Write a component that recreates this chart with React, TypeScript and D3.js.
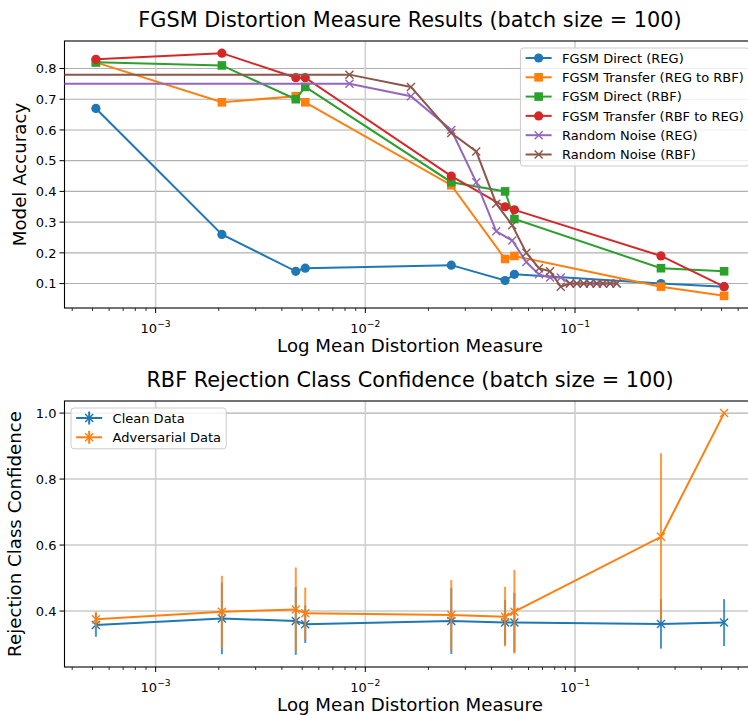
import { useEffect, useRef } from "react";
import * as d3 from "d3";

const FONT = "DejaVu Sans, Verdana, sans-serif";

// mean distortion of each FGSM run (same runs in both panels)
const fgsmDistortion = [5.19e-4, 2.07e-3, 4.66e-3, 5.17e-3, 0.0257, 0.0464, 0.0514, 0.257, 0.514];

const fgsmDirectReg = [0.67, 0.26, 0.14, 0.15, 0.16, 0.11, 0.13, 0.1, 0.09];
const fgsmTransferRegToRbf = [0.82, 0.69, 0.71, 0.69, 0.42, 0.18, 0.19, 0.09, 0.06];
const fgsmDirectRbf = [0.82, 0.81, 0.7, 0.74, 0.43, 0.4, 0.31, 0.15, 0.14];
const fgsmTransferRbfToReg = [0.83, 0.85, 0.77, 0.77, 0.45, 0.35, 0.34, 0.19, 0.09];

// random noise runs; the first one has no noise (0 distortion, falls off the log axis)
const noiseDistortion = [
  0, 0.0084, 0.0165, 0.0257, 0.0338, 0.0421, 0.0502, 0.0586, 0.0673, 0.076, 0.0855,
  0.0946, 0.102, 0.11, 0.118, 0.127, 0.136, 0.147, 0.158,
];
const noiseReg = [
  0.75, 0.75, 0.71, 0.6, 0.43, 0.27, 0.24, 0.17, 0.13, 0.12, 0.12,
  0.1, 0.1, 0.1, 0.1, 0.1, 0.1, 0.1, 0.1,
];
const noiseRbf = [
  0.78, 0.78, 0.74, 0.59, 0.53, 0.36, 0.29, 0.2, 0.15, 0.14, 0.09,
  0.1, 0.1, 0.1, 0.1, 0.1, 0.1, 0.1, 0.1,
];

// rejection class confidence (mean, std) per FGSM run
const cleanMean = [0.358, 0.377, 0.37, 0.36, 0.37, 0.365, 0.365, 0.361, 0.365];
const cleanStd = [0.036, 0.108, 0.103, 0.057, 0.1, 0.068, 0.09, 0.075, 0.071];
const advMean = [0.375, 0.398, 0.405, 0.393, 0.388, 0.383, 0.398, 0.625, 1.0];
const advStd = [0.023, 0.109, 0.127, 0.078, 0.106, 0.09, 0.127, 0.253, 0];

const topYTicks = [0.1, 0.2, 0.3, 0.4, 0.5, 0.6, 0.7, 0.8];
const bottomYTicks = [0.4, 0.6, 0.8, 1.0];
const xMajorTicks = [1e-3, 1e-2, 1e-1];

const C = ["#1f77b4", "#ff7f0e", "#2ca02c", "#d62728", "#9467bd", "#8c564b"];

const topSeries = [
  { name: "FGSM Direct (REG)", xs: fgsmDistortion, ys: fgsmDirectReg, color: C[0], marker: "o" },
  { name: "FGSM Transfer (REG to RBF)", xs: fgsmDistortion, ys: fgsmTransferRegToRbf, color: C[1], marker: "s" },
  { name: "FGSM Direct (RBF)", xs: fgsmDistortion, ys: fgsmDirectRbf, color: C[2], marker: "s" },
  { name: "FGSM Transfer (RBF to REG)", xs: fgsmDistortion, ys: fgsmTransferRbfToReg, color: C[3], marker: "o" },
  { name: "Random Noise (REG)", xs: noiseDistortion, ys: noiseReg, color: C[4], marker: "x" },
  { name: "Random Noise (RBF)", xs: noiseDistortion, ys: noiseRbf, color: C[5], marker: "x" },
];

const bottomSeries = [
  { name: "Clean Data", xs: fgsmDistortion, ys: cleanMean, err: cleanStd, color: C[0], marker: "x" },
  { name: "Adversarial Data", xs: fgsmDistortion, ys: advMean, err: advStd, color: C[1], marker: "x" },
];

const W = 748;
const H = 715;
const AX_LEFT = 64.5;
const AX_RIGHT = 755.5;
const TOP_BOX = { top: 41, bottom: 308 };
const BOT_BOX = { top: 401, bottom: 667 };

function logPad(vals) {
  const lo = Math.log10(d3.min(vals));
  const hi = Math.log10(d3.max(vals));
  const p = (hi - lo) * 0.05;
  return [10 ** (lo - p), 10 ** (hi + p)];
}
function linPad(lo, hi) {
  const p = (hi - lo) * 0.05;
  return [lo - p, hi + p];
}

function addMarker(sel, shape, color) {
  if (shape === "o") {
    sel.append("circle").attr("r", 4.6).attr("fill", color);
  } else if (shape === "s") {
    sel.append("rect").attr("x", -4.3).attr("y", -4.3).attr("width", 8.6).attr("height", 8.6).attr("fill", color);
  } else {
    sel
      .append("path")
      .attr("d", "M-4,-4L4,4M-4,4L4,-4")
      .attr("stroke", color)
      .attr("stroke-width", 1.4)
      .attr("fill", "none");
  }
}

function drawFrame(svg, id, x, y, box, yTicks, fmt, title, yLabel, yLabelX) {
  const g = svg.append("g");
  const [x0, x1] = x.domain();

  // grid
  g.selectAll(".hgrid")
    .data(yTicks)
    .enter()
    .append("line")
    .attr("x1", AX_LEFT)
    .attr("x2", AX_RIGHT)
    .attr("y1", (d) => y(d))
    .attr("y2", (d) => y(d))
    .attr("stroke", "#b0b0b0")
    .attr("stroke-width", 1.1);
  g.selectAll(".vgrid")
    .data(xMajorTicks)
    .enter()
    .append("line")
    .attr("x1", (d) => x(d))
    .attr("x2", (d) => x(d))
    .attr("y1", box.top)
    .attr("y2", box.bottom)
    .attr("stroke", "#d0d0d0")
    .attr("stroke-width", 1.6);

  // minor x ticks
  const minor = [];
  for (let k = -5; k <= 0; k++) {
    for (let m = 2; m <= 9; m++) {
      const v = m * 10 ** k;
      if (v > x0 && v < x1) minor.push(v);
    }
  }
  g.selectAll(".minor")
    .data(minor)
    .enter()
    .append("line")
    .attr("x1", (d) => x(d))
    .attr("x2", (d) => x(d))
    .attr("y1", box.bottom)
    .attr("y2", box.bottom + 3)
    .attr("stroke", "#000")
    .attr("stroke-width", 0.8);
  g.selectAll(".major")
    .data(xMajorTicks)
    .enter()
    .append("line")
    .attr("x1", (d) => x(d))
    .attr("x2", (d) => x(d))
    .attr("y1", box.bottom)
    .attr("y2", box.bottom + 5)
    .attr("stroke", "#000")
    .attr("stroke-width", 1);

  const lab = g
    .selectAll(".xlab")
    .data(xMajorTicks)
    .enter()
    .append("text")
    .attr("x", (d) => x(d))
    .attr("y", box.bottom + 25)
    .attr("text-anchor", "middle")
    .attr("font-family", FONT)
    .attr("font-size", 13);
  lab.append("tspan").text("10");
  lab
    .append("tspan")
    .attr("dy", -6)
    .attr("font-size", 9.2)
    .text((d) => "\u2212" + Math.round(-Math.log10(d)));

  // y ticks
  g.selectAll(".ytick")
    .data(yTicks)
    .enter()
    .append("line")
    .attr("x1", AX_LEFT - 5)
    .attr("x2", AX_LEFT)
    .attr("y1", (d) => y(d))
    .attr("y2", (d) => y(d))
    .attr("stroke", "#000");
  g.selectAll(".ylab")
    .data(yTicks)
    .enter()
    .append("text")
    .attr("x", AX_LEFT - 8)
    .attr("y", (d) => y(d) + 4.7)
    .attr("text-anchor", "end")
    .attr("font-family", FONT)
    .attr("font-size", 13)
    .text((d) => fmt(d));

  // spines
  g.append("rect")
    .attr("x", AX_LEFT)
    .attr("y", box.top)
    .attr("width", AX_RIGHT - AX_LEFT)
    .attr("height", box.bottom - box.top)
    .attr("fill", "none")
    .attr("stroke", "#000")
    .attr("stroke-width", 1.1);

  g.append("text")
    .attr("x", (AX_LEFT + AX_RIGHT) / 2)
    .attr("y", box.top - 14)
    .attr("text-anchor", "middle")
    .attr("font-family", FONT)
    .attr("font-size", 20.8)
    .text(title);
  g.append("text")
    .attr("x", (AX_LEFT + AX_RIGHT) / 2)
    .attr("y", box.bottom + 44)
    .attr("text-anchor", "middle")
    .attr("font-family", FONT)
    .attr("font-size", 18.2)
    .text("Log Mean Distortion Measure");
  g.append("text")
    .attr("transform", `translate(${yLabelX},${(box.top + box.bottom) / 2}) rotate(-90)`)
    .attr("text-anchor", "middle")
    .attr("font-family", FONT)
    .attr("font-size", 18.2)
    .text(yLabel);

  svg
    .append("clipPath")
    .attr("id", id)
    .append("rect")
    .attr("x", AX_LEFT)
    .attr("y", box.top)
    .attr("width", AX_RIGHT - AX_LEFT)
    .attr("height", box.bottom - box.top);
}

function drawLegend(svg, items, anchor, x, y, withErr) {
  const f = 13;
  const rowH = 19.3;
  const g = svg.append("g");
  const bg = g.append("rect");
  const rows = g
    .selectAll("g")
    .data(items)
    .enter()
    .append("g")
    .attr("transform", (d, i) => `translate(0,${10 + i * rowH})`);
  const texts = rows
    .append("text")
    .attr("x", 5.2 + 26 + 10.4)
    .attr("y", 4.7)
    .attr("font-family", FONT)
    .attr("font-size", f)
    .text((d) => d.name);
  let tw = 0;
  texts.each(function () {
    tw = Math.max(tw, this.getComputedTextLength());
  });
  const w = 5.2 + 26 + 10.4 + tw + 5.2;
  const h = 10 + (items.length - 1) * rowH + 11.5;
  rows.append("line")
    .attr("x1", 5.2)
    .attr("x2", 5.2 + 26)
    .attr("stroke", (d) => d.color)
    .attr("stroke-width", 2);
  if (withErr) {
    rows.append("line")
      .attr("x1", 5.2 + 13)
      .attr("x2", 5.2 + 13)
      .attr("y1", -6.5)
      .attr("y2", 6.5)
      .attr("stroke", (d) => d.color)
      .attr("stroke-width", 2);
  }
  rows.each(function (d) {
    const m = d3.select(this).append("g").attr("transform", "translate(18.2,0)");
    addMarker(m, d.marker, d.color);
  });
  bg.attr("width", w)
    .attr("height", h)
    .attr("rx", 3)
    .attr("fill", "#fff")
    .attr("fill-opacity", 0.8)
    .attr("stroke", "#cccccc");
  const left = anchor === "right" ? x - w : x;
  g.attr("transform", `translate(${left},${y})`);
}

export default function App() {
  const ref = useRef(null);

  useEffect(() => {
    d3.select(ref.current).selectAll("*").remove();
    const svg = d3.select(ref.current);

    svg.append("rect").attr("width", W).attr("height", H).attr("fill", "#fff");

    const xTop = d3
      .scaleLog()
      .domain(logPad(fgsmDistortion.concat(noiseDistortion.filter((d) => d > 0))))
      .range([AX_LEFT, AX_RIGHT]);
    const allTopY = topSeries.flatMap((s) => s.ys);
    const yTop = d3
      .scaleLinear()
      .domain(linPad(d3.min(allTopY), d3.max(allTopY)))
      .range([TOP_BOX.bottom, TOP_BOX.top]);

    const xBot = d3.scaleLog().domain(logPad(fgsmDistortion)).range([AX_LEFT, AX_RIGHT]);
    const lows = bottomSeries.flatMap((s) => s.ys.map((v, i) => v - s.err[i]));
    const highs = bottomSeries.flatMap((s) => s.ys.map((v, i) => v + s.err[i]));
    const yBot = d3
      .scaleLinear()
      .domain(linPad(d3.min(lows), d3.max(highs)))
      .range([BOT_BOX.bottom, BOT_BOX.top]);

    drawFrame(svg, "clipTop", xTop, yTop, TOP_BOX, topYTicks, d3.format(".1f"),
      "FGSM Distortion Measure Results (batch size = 100)", "Model Accuracy", 26);
    drawFrame(svg, "clipBot", xBot, yBot, BOT_BOX, bottomYTicks, d3.format(".1f"),
      "RBF Rejection Class Confidence (batch size = 100)", "Rejection Class Confidence", 21);

    // zero distortion is pushed far left, the clip hides it like matplotlib does
    const px = (scale) => (d) => scale(Math.max(d, 1e-7));

    const top = svg.append("g").attr("clip-path", "url(#clipTop)");
    topSeries.forEach((s) => {
      const pts = s.xs.map((xv, i) => [px(xTop)(xv), yTop(s.ys[i])]);
      top.append("path")
        .attr("d", d3.line()(pts))
        .attr("fill", "none")
        .attr("stroke", s.color)
        .attr("stroke-width", 2);
      pts.forEach((p) => {
        addMarker(top.append("g").attr("transform", `translate(${p[0]},${p[1]})`), s.marker, s.color);
      });
    });

    const bot = svg.append("g").attr("clip-path", "url(#clipBot)");
    bottomSeries.forEach((s) => {
      const pts = s.xs.map((xv, i) => [xBot(xv), yBot(s.ys[i])]);
      bot.append("path")
        .attr("d", d3.line()(pts))
        .attr("fill", "none")
        .attr("stroke", s.color)
        .attr("stroke-width", 2);
      bot.selectAll(null)
        .data(s.xs)
        .enter()
        .append("line")
        .attr("x1", (d) => xBot(d))
        .attr("x2", (d) => xBot(d))
        .attr("y1", (d, i) => yBot(s.ys[i] - s.err[i]))
        .attr("y2", (d, i) => yBot(s.ys[i] + s.err[i]))
        .attr("stroke", s.color)
        .attr("stroke-opacity", 0.8)
        .attr("stroke-width", 2);
      pts.forEach((p) => {
        addMarker(bot.append("g").attr("transform", `translate(${p[0]},${p[1]})`), s.marker, s.color);
      });
    });

    drawLegend(svg, topSeries, "right", AX_RIGHT - 6.5, TOP_BOX.top + 7, false);
    drawLegend(svg, bottomSeries, "left", AX_LEFT + 6.5, BOT_BOX.top + 7, true);
  }, []);

  return (
    <svg
      ref={ref}
      width={W}
      height={H}
      style={{ position: "absolute", left: 0, top: 0, display: "block" }}
    />
  );
}
